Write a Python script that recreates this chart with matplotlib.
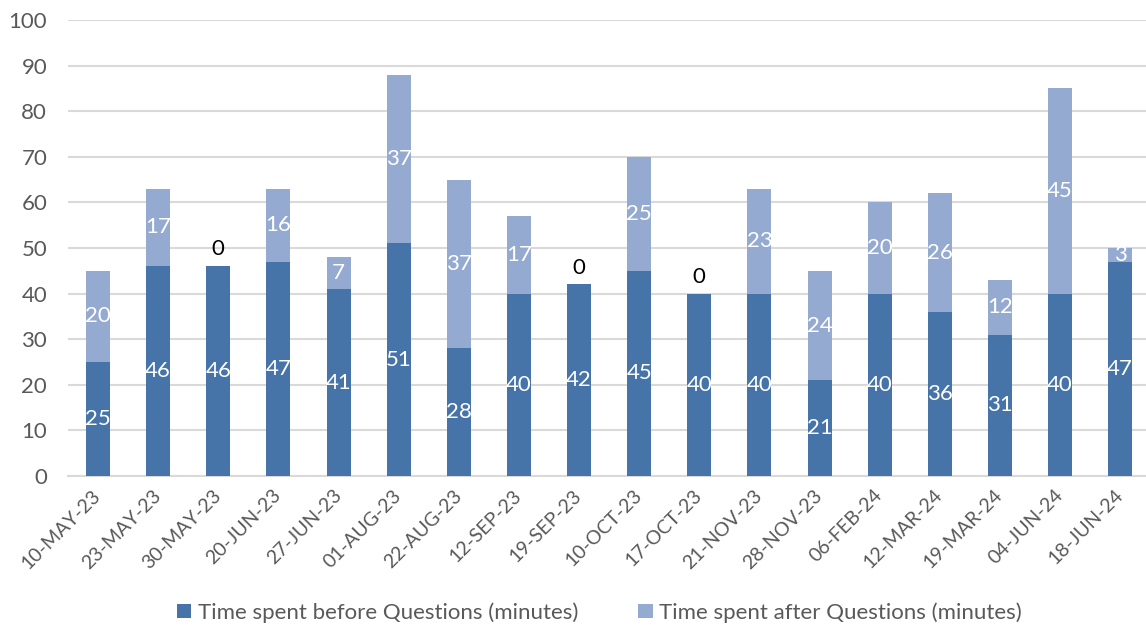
import matplotlib.pyplot as plt
import numpy as np

plt.rcParams['font.family'] = ['Lato', 'DejaVu Sans']

dates = ['10-MAY-23', '23-MAY-23', '30-MAY-23', '20-JUN-23', '27-JUN-23', '01-AUG-23',
         '22-AUG-23', '12-SEP-23', '19-SEP-23', '10-OCT-23', '17-OCT-23', '21-NOV-23',
         '28-NOV-23', '06-FEB-24', '12-MAR-24', '19-MAR-24', '04-JUN-24', '18-JUN-24']
before = [25, 46, 46, 47, 41, 51, 28, 40, 42, 45, 40, 40, 21, 40, 36, 31, 40, 47]
after = [20, 17, 0, 16, 7, 37, 37, 17, 0, 25, 0, 23, 24, 20, 26, 12, 45, 3]

dark = '#4673A8'
light = '#95AAD1'
grey = '#595959'

fig = plt.figure(figsize=(11.46, 6.29), dpi=100)
ax = fig.add_axes([68 / 1146, 1 - 476 / 629, 1 - 68 / 1146, 456 / 629])

x = np.arange(len(dates))
b1 = ax.bar(x, before, width=0.4, color=dark, label='Time spent before Questions (minutes)', zorder=3)
b2 = ax.bar(x, after, width=0.4, bottom=before, color=light,
            label='Time spent after Questions (minutes)', zorder=3)

# value labels in the middle of each segment
for i in range(len(dates)):
    ax.text(x[i], before[i] / 2, str(before[i]), ha='center', va='center',
            color='white', fontsize=16, zorder=4)
    if after[i] > 0:
        ax.text(x[i], before[i] + after[i] / 2, str(after[i]), ha='center', va='center',
                color='white', fontsize=16, zorder=4)
    else:
        ax.annotate('0', (x[i], before[i]), xytext=(0, 5), textcoords='offset points',
                    ha='center', va='bottom', color='black', fontsize=16, zorder=4)

ax.set_ylim(0, 100)
ax.set_xlim(-0.5, len(dates) - 0.5 - 0.07)
ax.set_yticks(range(0, 101, 10))
ax.yaxis.grid(True, color='#D9D9D9', linewidth=1.5, zorder=0)
ax.set_axisbelow(True)
for s in ['top', 'right', 'left']:
    ax.spines[s].set_visible(False)
ax.spines['bottom'].set_color('#D9D9D9')
ax.spines['bottom'].set_linewidth(1.5)
ax.tick_params(axis='y', length=0, labelsize=16, labelcolor=grey, pad=15)
ax.tick_params(axis='x', length=0, labelsize=14, labelcolor=grey, pad=12)
ax.set_xticks(x)
ax.set_xticklabels(dates, rotation=45, ha='right', va='center', rotation_mode='anchor')

fig.legend(handles=[b1, b2], loc='lower center', bbox_to_anchor=(0.523, -0.022), ncol=2,
           frameon=False, fontsize=16, labelcolor=grey, handlelength=0.65, handleheight=0.65,
           handletextpad=0.3, columnspacing=2.7)

fig.savefig('out.png', dpi=100)
